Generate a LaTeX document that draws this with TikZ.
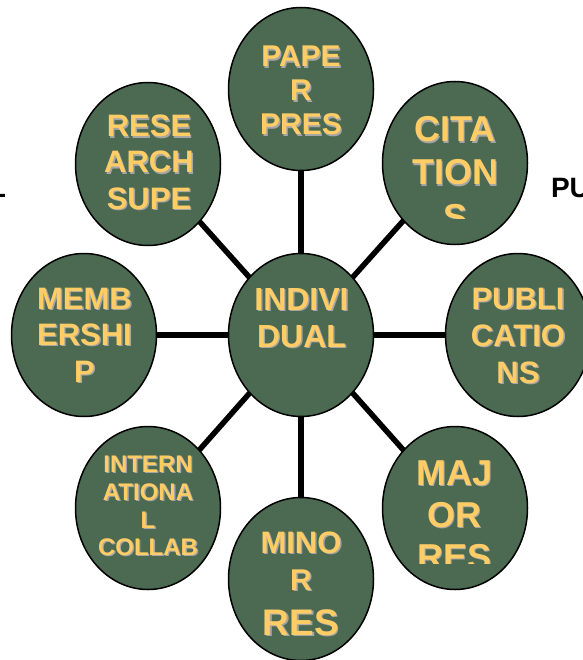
\documentclass[tikz,border=0pt]{standalone}
\usepackage{fontspec}
\setmainfont{Liberation Sans}
\usetikzlibrary{shapes.geometric,backgrounds}
\definecolor{bubblefill}{HTML}{4B6A51}
\definecolor{txtyellow}{HTML}{FFCC66}
\definecolor{txtshade}{HTML}{A6A6A6}
\tikzset{
  bubble/.style={ellipse, draw=black, line width=1.5pt, fill=bubblefill,
    minimum width=145pt, minimum height=163pt, inner sep=0pt},
  link/.style={line width=5.5pt, draw=black},
  lbl/.style={anchor=base, inner sep=0pt, outer sep=0pt, font=\bfseries},
  sidetext/.style={anchor=base west, inner sep=0pt, outer sep=0pt, text=black}
}
% name, x, baseline y, size, text
\newcommand\bubbleline[5]{%
  \node[lbl, text=txtshade] (#1s) at (#2+1.4,#3+1.4) {\fontsize{#4}{#4}\selectfont #5};
  \node[lbl, text=txtyellow] (#1) at (#2,#3) {\fontsize{#4}{#4}\selectfont #5};
}
\begin{document}
\begin{tikzpicture}[x=1pt,y=-1pt]
\useasboundingbox (0,0) rectangle (582,660);
% bubbles
\node[bubble] (ind) at (301,335) {};
\node[bubble] (pap) at (301,89) {};
\node[bubble] (cit) at (455,163) {};
\node[bubble] (res) at (148,164) {};
\node[bubble] (mem) at (84,335) {};
\node[bubble] (pub) at (518,335) {};
\node[bubble] (int) at (148,508) {};
\node[bubble] (maj) at (455,508) {};
\node[bubble] (min) at (301,579) {};
% connectors
\begin{scope}[on background layer]
  \draw[link] (ind.center) -- (pap.center);
  \draw[link] (ind.center) -- (cit.center);
  \draw[link] (ind.center) -- (res.center);
  \draw[link] (ind.center) -- (mem.center);
  \draw[link] (ind.center) -- (pub.center);
  \draw[link] (ind.center) -- (int.center);
  \draw[link] (ind.center) -- (maj.center);
  \draw[link] (ind.center) -- (min.center);
\end{scope}
% texts
\bubbleline{ta1}{149}{137}{31}{RESE}
\bubbleline{ta2}{149}{173}{31}{ARCH}
\bubbleline{ta3}{149}{209}{31}{SUPE}
\bubbleline{tb1}{301}{67}{30}{PAPE}
\bubbleline{tb2}{301}{101}{30}{R}
\bubbleline{tb3}{301}{135}{30}{PRES}
\bubbleline{tc1}{455}{142}{36}{CITA}
\bubbleline{tc2}{455}{185}{36}{TION}
\begin{scope}
  \clip (0,0) rectangle (582,218);
  \bubbleline{tc3}{455}{229}{36}{S}
\end{scope}
\bubbleline{td1}{84.5}{309}{31}{MEMB}
\bubbleline{td2}{84.5}{345}{31}{ERSHI}
\bubbleline{td3}{84.5}{382}{31}{P}
\bubbleline{te1}{301.5}{310}{32}{INDIVI}
\bubbleline{te2}{301.5}{347}{32}{DUAL}
\bubbleline{tf1}{518}{309}{31}{PUBLI}
\bubbleline{tf2}{518}{346}{31}{CATIO}
\bubbleline{tf3}{518}{383}{31}{NS}
\bubbleline{tg1}{148}{472}{24}{INTERN}
\bubbleline{tg2}{148}{500}{24}{ATIONA}
\bubbleline{tg3}{148}{528}{24}{L}
\bubbleline{tg4}{148}{555}{24}{COLLAB}
\bubbleline{th1}{301}{553}{31}{MINO}
\bubbleline{th2}{301}{590}{30}{R}
\bubbleline{th3}{301}{635}{37}{RES}
\bubbleline{ti1}{454.5}{485}{36}{MAJ}
\bubbleline{ti2}{454.5}{527}{36}{OR}
\begin{scope}
  \clip (0,0) rectangle (582,563);
  \bubbleline{ti3}{454.5}{569}{36}{RES}
\end{scope}
% cut-off side texts
\node[sidetext, font=\bfseries\fontsize{28}{28}\selectfont] (pu) at (551,197) {PU};
\node[sidetext, font=\bfseries\fontsize{28}{28}\selectfont] (lcut) at (-11,197) {L};
\end{tikzpicture}
\end{document}
